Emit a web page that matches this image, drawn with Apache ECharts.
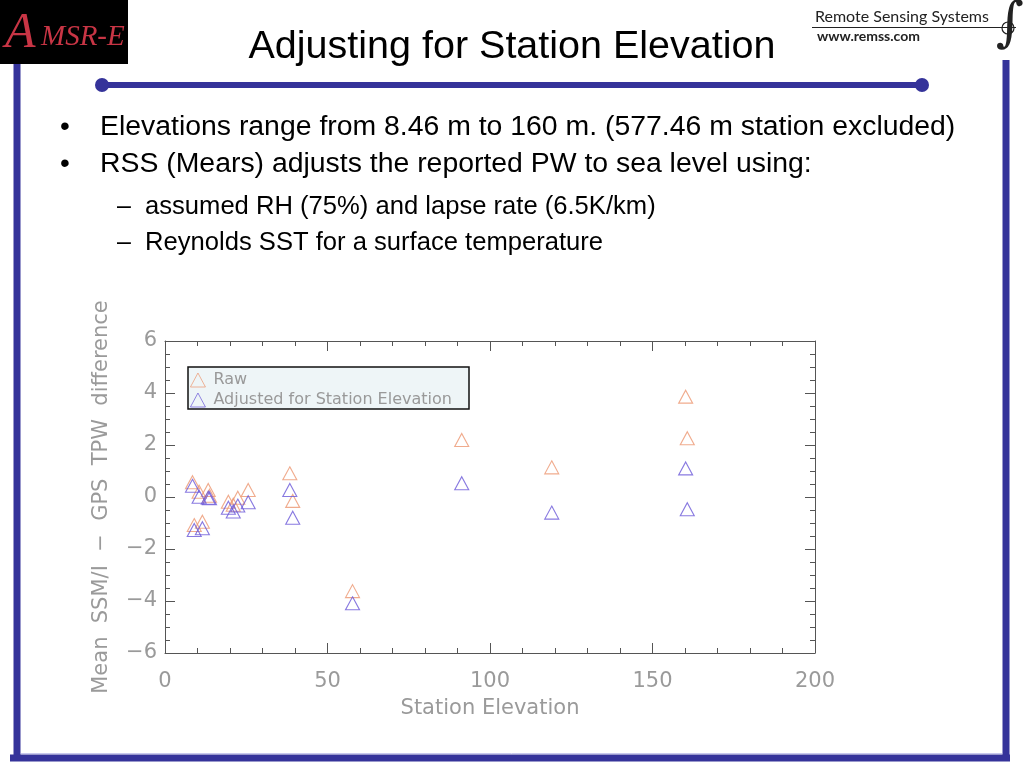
<!DOCTYPE html>
<html><head><meta charset="utf-8">
<script src="https://cdn.jsdelivr.net/npm/echarts@6/dist/echarts.min.js"></script>
<style>html,body{margin:0;padding:0;background:#fff}#c{width:1024px;height:768px}</style>
</head><body><div id="c"></div><script>
// Station elevation (m) and mean SSM/I - GPS TPW difference
const elevation = [8.46, 9.0, 10.5, 11.5, 13.3, 13.7, 19.5, 21.0, 22.4, 25.6, 38.4, 39.3, 57.7, 91.3, 119.0, 160.2, 160.7];
const rawDiff   = [0.57, -1.08, 0.20, -0.95, 0.27, 0.05, -0.18, -0.30, -0.03, 0.27, 0.91, -0.15, -3.62, 2.19, 1.14, 3.86, 2.26];
const adjDiff   = [0.43, -1.27, 0.01, -1.20, -0.03, -0.05, -0.41, -0.56, -0.33, -0.20, 0.27, -0.80, -4.09, 0.53, -0.60, 1.10, -0.47];
const seriesNames = ['Raw', 'Adjusted for Station Elevation'];
const xRange = [0, 200, 50];
const yRange = [-6, 6, 2];
const titleText = 'Adjusting for Station Elevation';
const bullets = ['Elevations range from 8.46 m to 160 m. (577.46 m station excluded)', 'RSS (Mears) adjusts the reported PW to sea level using:'];
const subBullets = ['assumed RH (75%) and lapse rate (6.5K/km)', 'Reynolds SST for a surface temperature'];
const xName = 'Station Elevation';
const yName = 'Mean  SSM/I  \u2212  GPS  TPW  difference';

const rawPts = elevation.map((e, i) => [e, rawDiff[i]]);
const adjPts = elevation.map((e, i) => [e, adjDiff[i]]);

const chart = echarts.init(document.getElementById('c'), null, {renderer: 'canvas'});
const navy = '#35339a';
const axisCol = '#555';
const lblCol = '#9a9a9a';
const axisFont = 'DejaVu Sans';

function xAxisDef(pos, showLabel) {
  return {
    type: 'value', position: pos, min: xRange[0], max: xRange[1], interval: xRange[2],
    name: showLabel ? xName : '', nameLocation: 'middle', nameGap: 45,
    nameTextStyle: {color: lblCol, fontSize: 21, fontFamily: axisFont},
    axisLine: {show: true, onZero: false, lineStyle: {color: axisCol, width: 1}},
    axisTick: {show: true, inside: true, length: 10, lineStyle: {color: axisCol}},
    minorTick: {show: true, splitNumber: 5, length: 5, lineStyle: {color: axisCol}},
    axisLabel: {show: showLabel, color: lblCol, fontSize: 21, fontFamily: axisFont, margin: 18},
    splitLine: {show: false}
  };
}
function yAxisDef(pos, showLabel) {
  return {
    type: 'value', position: pos, min: yRange[0], max: yRange[1], interval: yRange[2],
    name: showLabel ? yName : '', nameLocation: 'middle', nameGap: 53, nameRotate: 90,
    nameTextStyle: {color: lblCol, fontSize: 21, fontFamily: axisFont},
    axisLine: {show: true, onZero: false, lineStyle: {color: axisCol, width: 1}},
    axisTick: {show: true, inside: true, length: 10, lineStyle: {color: axisCol}},
    minorTick: {show: true, splitNumber: 4, length: 5, lineStyle: {color: axisCol}},
    axisLabel: {show: showLabel, color: lblCol, fontSize: 21, fontFamily: axisFont, margin: 8,
      padding: [5, 0, 0, 0],
      formatter: v => v < 0 ? '\u2212' + Math.abs(v) : String(v)},
    splitLine: {show: false}
  };
}

const g = [];
// blue frame
g.push({type: 'line', shape: {x1: 17, y1: 63, x2: 17, y2: 761}, style: {stroke: navy, lineWidth: 7}});
g.push({type: 'line', shape: {x1: 1006, y1: 60, x2: 1006, y2: 761}, style: {stroke: navy, lineWidth: 7}});
g.push({type: 'line', shape: {x1: 10, y1: 758, x2: 1010, y2: 758}, style: {stroke: navy, lineWidth: 7}});
g.push({type: 'line', shape: {x1: 21, y1: 753.5, x2: 1002, y2: 753.5}, style: {stroke: '#c8c8ee', lineWidth: 1}});
g.push({type: 'line', shape: {x1: 102, y1: 85, x2: 922, y2: 85}, style: {stroke: navy, lineWidth: 6}});
g.push({type: 'circle', shape: {cx: 102, cy: 85, r: 7}, style: {fill: navy}});
g.push({type: 'circle', shape: {cx: 922, cy: 85, r: 7}, style: {fill: navy}});
// AMSR-E logo
g.push({type: 'rect', shape: {x: 0, y: 0, width: 128, height: 64}, style: {fill: '#000'}});
g.push({type: 'text', x: 5, y: 34, style: {text: 'A', font: 'italic 50px "Liberation Serif"', fill: '#c83545', verticalAlign: 'middle', align: 'left'}});
g.push({type: 'text', x: 41, y: 37, style: {text: 'MSR-E', font: 'italic 29px "Liberation Serif"', fill: '#c83545', verticalAlign: 'middle', align: 'left'}});
// RSS logo
g.push({type: 'text', x: 815, y: 17, style: {text: 'Remote Sensing Systems', font: '16px Lato', fill: '#222', verticalAlign: 'middle', align: 'left'}});
g.push({type: 'line', shape: {x1: 812, y1: 27.5, x2: 1016, y2: 27.5}, style: {stroke: '#222', lineWidth: 1}});
g.push({type: 'text', x: 817, y: 36.5, style: {text: 'www.remss.com', font: 'bold 14px Lato', fill: '#222', verticalAlign: 'middle', align: 'left'}});
g.push({type: 'text', x: 1010, y: 26, style: {text: '\u222B', font: 'italic 54px "DejaVu Serif"', fill: '#222', verticalAlign: 'middle', align: 'center'}});
g.push({type: 'circle', shape: {cx: 1008, cy: 28, r: 6}, style: {fill: 'none', stroke: '#222', lineWidth: 1.2}});
// title and bullet text
g.push({type: 'text', x: 512, y: 47, style: {text: titleText, font: '39.5px "Liberation Sans"', fill: '#000', verticalAlign: 'middle', align: 'center'}});
const by = [127.5, 164.5];
bullets.forEach((b, i) => {
  g.push({type: 'text', x: 60, y: by[i], style: {text: '\u2022', font: '28px "Liberation Sans"', fill: '#000', verticalAlign: 'middle'}});
  g.push({type: 'text', x: 100, y: by[i], style: {text: b, font: '28.4px "Liberation Sans"', fill: '#000', verticalAlign: 'middle'}});
});
const sy = [207, 243];
subBullets.forEach((b, i) => {
  g.push({type: 'text', x: 117, y: sy[i], style: {text: '\u2013', font: '25px "Liberation Sans"', fill: '#000', verticalAlign: 'middle'}});
  g.push({type: 'text', x: 145, y: sy[i], style: {text: b, font: '25.6px "Liberation Sans"', fill: '#000', verticalAlign: 'middle'}});
});
// legend box
g.push({type: 'rect', z: 3, shape: {x: 188, y: 367, width: 281, height: 42}, style: {fill: '#eef5f7', stroke: '#111', lineWidth: 1.5}});

chart.setOption({
  animation: false,
  backgroundColor: '#fff',
  grid: {left: 165, top: 341, width: 650, height: 312, containLabel: false},
  xAxis: [xAxisDef('bottom', true), xAxisDef('top', false)],
  yAxis: [yAxisDef('left', true), yAxisDef('right', false)],
  legend: {
    show: true, orient: 'vertical', left: 190, top: 372, padding: 0, itemGap: 4,
    itemWidth: 15, itemHeight: 14, z: 5,
    itemStyle: {borderWidth: 0.9},
    textStyle: {color: '#999', fontSize: 16, fontFamily: axisFont, padding: [0, 0, 0, 3]},
    data: seriesNames
  },
  graphic: g,
  series: [
    {name: seriesNames[0], type: 'scatter', symbol: 'triangle', symbolSize: [14, 13], data: rawPts,
      itemStyle: {color: 'rgba(0,0,0,0)', borderColor: '#ec9670', borderWidth: 1.1}},
    {name: seriesNames[1], type: 'scatter', symbol: 'triangle', symbolSize: [14, 13], data: adjPts,
      itemStyle: {color: 'rgba(0,0,0,0)', borderColor: '#6a58d8', borderWidth: 1.1}}
  ]
});
</script></body></html>
